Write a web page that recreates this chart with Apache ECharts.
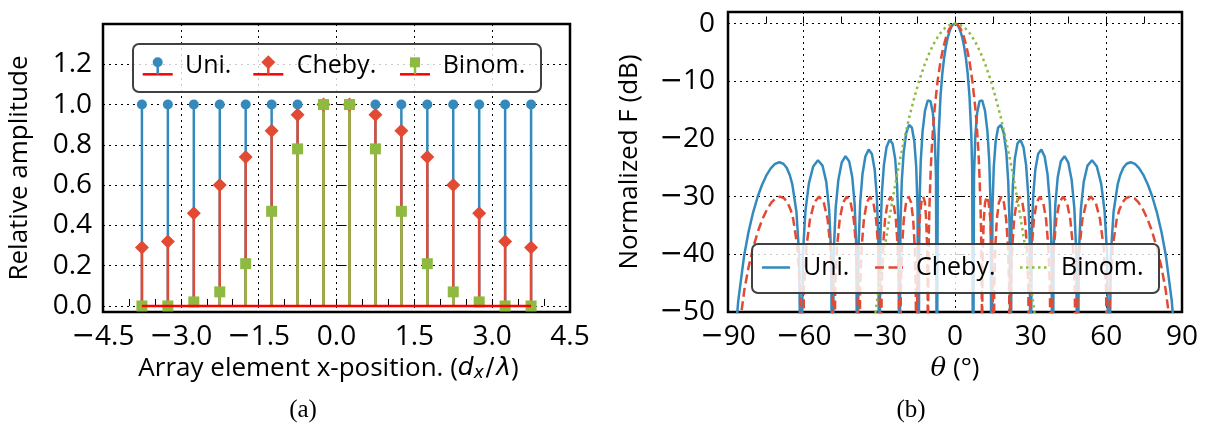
<!DOCTYPE html>
<html><head><meta charset="utf-8">
<script src="https://cdn.jsdelivr.net/npm/echarts@6/dist/echarts.min.js"></script>
<style>html,body{margin:0;padding:0;background:#fff}#c{width:1211px;height:425px}</style>
</head><body><div id="c"></div>
<script>
// ---------- panel (a): element amplitudes ----------
const positions = [-3.75,-3.25,-2.75,-2.25,-1.75,-1.25,-0.75,-0.25,0.25,0.75,1.25,1.75,2.25,2.75,3.25,3.75];
const uniAmp   = [1,1,1,1,1,1,1,1,1,1,1,1,1,1,1,1];
const chebyAmp = [0.29,0.32,0.46,0.60,0.74,0.87,0.95,1.00,1.00,0.95,0.87,0.74,0.60,0.46,0.32,0.29];
const binomAmp = [0.00,0.00,0.02,0.07,0.21,0.47,0.78,1.00,1.00,0.78,0.47,0.21,0.07,0.02,0.00,0.00];
const xTicksA = [-4.5,-3,-1.5,0,1.5,3,4.5];
const xTickLabelsA = ['−4.5','−3.0','−1.5','0.0','1.5','3.0','4.5'];
const yTicksA = [0,0.2,0.4,0.6,0.8,1.0,1.2];
const yTickLabelsA = ['0.0','0.2','0.4','0.6','0.8','1.0','1.2'];
const seriesNames = ['Uni.','Cheby.','Binom.'];

// ---------- panel (b): normalized array factor, [theta (deg), dB] ----------
const uniPattern = [
[-90,-70],[-85.95,-48.12],[-83.59,-40.19],[-81.89,-36.17],[-80.06,-32.76],[-78.17,-29.94],[-76.53,-27.98],[-74.80,-26.33],[-72.98,-25.06],[-71.35,-24.33],[-69.64,-24.04],[-68.05,-24.31],[-66.74,-25.01],[-65.51,-26.26],[-64.49,-27.89],[-62.87,-32.63],[-61.79,-40.04],[-61.05,-70],
[-60.31,-40.01],[-59.32,-32.55],[-57.95,-27.74],[-56.23,-24.77],[-54.34,-23.70],[-52.54,-24.62],[-51.04,-27.45],[-49.91,-32.16],[-49.13,-39.54],[-48.59,-70],
[-48.06,-39.47],[-47.31,-31.99],[-46.26,-27.14],[-44.93,-24.12],[-43.43,-22.99],[-41.97,-23.85],[-40.73,-26.63],[-39.79,-31.29],[-39.14,-38.65],[-38.68,-70],
[-38.23,-38.53],[-37.59,-31.02],[-36.69,-26.13],[-35.54,-23.05],[-34.23,-21.85],[-32.94,-22.63],[-31.84,-25.34],[-31.00,-29.95],[-30.41,-37.27],[-30,-70],
[-29.59,-37.10],[-29.01,-29.54],[-28.20,-24.59],[-27.15,-21.43],[-25.94,-20.13],[-24.76,-20.81],[-23.73,-23.42],[-22.95,-27.96],[-22.41,-35.21],[-22.02,-70],
[-21.64,-34.96],[-21.10,-27.34],[-20.34,-22.30],[-19.34,-19.01],[-18.21,-17.55],[-17.08,-18.05],[-16.11,-20.50],[-15.37,-24.90],[-14.85,-32.05],[-14.48,-70],
[-14.11,-31.64],[-13.59,-23.91],[-12.86,-18.68],[-11.90,-15.14],[-10.81,-13.34],[-10.23,-13.15],[-9.72,-13.45],[-8.77,-15.50],[-8.05,-19.54],[-7.54,-26.41],[-7.18,-70],
[-6.82,-25.56],[-6.46,-19.18],[-5.74,-12.58],[-5.02,-8.66],[-4.30,-5.92],[-3.58,-3.91],[-2.87,-2.41],[-2.15,-1.32],[-1.43,-0.58],[-0.72,-0.14],[0,0],
[0.72,-0.14],[1.43,-0.58],[2.15,-1.32],[2.87,-2.41],[3.58,-3.91],[4.30,-5.92],[5.02,-8.66],[5.74,-12.58],[6.46,-19.18],[6.82,-25.56],
[7.18,-70],[7.54,-26.41],[8.05,-19.54],[8.77,-15.50],[9.72,-13.45],[10.23,-13.15],[10.81,-13.34],[11.90,-15.14],[12.86,-18.68],[13.59,-23.91],[14.11,-31.64],
[14.48,-70],[14.85,-32.05],[15.37,-24.90],[16.11,-20.50],[17.08,-18.05],[18.21,-17.55],[19.34,-19.01],[20.34,-22.30],[21.10,-27.34],[21.64,-34.96],
[22.02,-70],[22.41,-35.21],[22.95,-27.96],[23.73,-23.42],[24.76,-20.81],[25.94,-20.13],[27.15,-21.43],[28.20,-24.59],[29.01,-29.54],[29.59,-37.10],
[30,-70],[30.41,-37.27],[31.00,-29.95],[31.84,-25.34],[32.94,-22.63],[34.23,-21.85],[35.54,-23.05],[36.69,-26.13],[37.59,-31.02],[38.23,-38.53],
[38.68,-70],[39.14,-38.65],[39.79,-31.29],[40.73,-26.63],[41.97,-23.85],[43.43,-22.99],[44.93,-24.12],[46.26,-27.14],[47.31,-31.99],[48.06,-39.47],
[48.59,-70],[49.13,-39.54],[49.91,-32.16],[51.04,-27.45],[52.54,-24.62],[54.34,-23.70],[56.23,-24.77],[57.95,-27.74],[59.32,-32.55],[60.31,-40.01],
[61.05,-70],[61.79,-40.04],[62.87,-32.63],[64.49,-27.89],[65.51,-26.26],[66.74,-25.01],[68.05,-24.31],[69.64,-24.04],[71.35,-24.33],[72.98,-25.06],[74.80,-26.33],[76.53,-27.98],[78.17,-29.94],[80.06,-32.76],[81.89,-36.17],[83.59,-40.19],[85.95,-48.12],[90,-70]
];
const chebyPattern = [
[-90,-80],[-85.89,-54.04],[-83.50,-46.11],[-81.78,-42.09],[-79.93,-38.68],[-78.01,-35.87],[-76.35,-33.91],[-74.59,-32.26],[-72.76,-31.00],[-71.10,-30.28],[-69.36,-30.00],[-67.75,-30.28],[-66.43,-31.00],[-65.17,-32.26],[-64.14,-33.91],[-62.51,-38.68],[-61.42,-46.11],[-60.66,-80],
[-59.91,-46.11],[-58.90,-38.68],[-57.49,-33.91],[-55.78,-31.00],[-53.86,-30.00],[-52.05,-31.00],[-50.52,-33.91],[-49.39,-38.68],[-48.61,-46.11],[-48.06,-80],
[-47.51,-46.11],[-46.76,-38.68],[-45.70,-33.91],[-44.37,-31.00],[-42.86,-30.00],[-41.39,-31.00],[-40.15,-33.91],[-39.21,-38.68],[-38.55,-46.11],[-38.10,-80],
[-37.64,-46.11],[-37.00,-38.68],[-36.11,-33.91],[-34.96,-31.00],[-33.66,-30.00],[-32.38,-31.00],[-31.29,-33.91],[-30.47,-38.68],[-29.90,-46.11],[-29.49,-80],
[-29.09,-46.11],[-28.53,-38.68],[-27.74,-33.91],[-26.71,-31.00],[-25.55,-30.00],[-24.42,-31.00],[-23.45,-33.91],[-22.72,-38.68],[-22.21,-46.11],[-21.85,-80],
[-21.49,-46.11],[-21.00,-38.68],[-20.29,-33.91],[-19.38,-31.00],[-18.39,-30.00],[-17.41,-31.00],[-16.59,-33.91],[-15.97,-38.68],[-15.55,-46.11],[-15.26,-80],
[-14.96,-46.11],[-14.56,-38.68],[-14.01,-33.91],[-13.33,-31.00],[-12.59,-30.00],[-11.93,-31.00],[-11.42,-33.91],[-11.07,-38.68],[-10.85,-46.11],[-10.71,-80],
[-10.64,-49.6],[-10.51,-41.74],[-10.34,-36.02],[-10.10,-31.25],[-10.00,-30.00],[-9.61,-25.22],[-9.21,-21.62],[-8.63,-17.69],[-8.05,-14.61],[-6.89,-9.94],[-5.74,-6.55],[-4.59,-4.04],[-3.44,-2.21],[-2.29,-0.96],[-1.15,-0.24],[0,0],
[1.15,-0.24],[2.29,-0.96],[3.44,-2.21],[4.59,-4.04],[5.74,-6.55],[6.89,-9.94],[8.05,-14.61],[8.63,-17.69],[9.21,-21.62],[9.61,-25.22],[10.00,-30.00],[10.10,-31.25],[10.34,-36.02],[10.51,-41.74],[10.64,-49.6],
[10.71,-80],[10.85,-46.11],[11.07,-38.68],[11.42,-33.91],[11.93,-31.00],[12.59,-30.00],[13.33,-31.00],[14.01,-33.91],[14.56,-38.68],[14.96,-46.11],
[15.26,-80],[15.55,-46.11],[15.97,-38.68],[16.59,-33.91],[17.41,-31.00],[18.39,-30.00],[19.38,-31.00],[20.29,-33.91],[21.00,-38.68],[21.49,-46.11],
[21.85,-80],[22.21,-46.11],[22.72,-38.68],[23.45,-33.91],[24.42,-31.00],[25.55,-30.00],[26.71,-31.00],[27.74,-33.91],[28.53,-38.68],[29.09,-46.11],
[29.49,-80],[29.90,-46.11],[30.47,-38.68],[31.29,-33.91],[32.38,-31.00],[33.66,-30.00],[34.96,-31.00],[36.11,-33.91],[37.00,-38.68],[37.64,-46.11],
[38.10,-80],[38.55,-46.11],[39.21,-38.68],[40.15,-33.91],[41.39,-31.00],[42.86,-30.00],[44.37,-31.00],[45.70,-33.91],[46.76,-38.68],[47.51,-46.11],
[48.06,-80],[48.61,-46.11],[49.39,-38.68],[50.52,-33.91],[52.05,-31.00],[53.86,-30.00],[55.78,-31.00],[57.49,-33.91],[58.90,-38.68],[59.91,-46.11],
[60.66,-80],[61.42,-46.11],[62.51,-38.68],[64.14,-33.91],[65.17,-32.26],[66.43,-31.00],[67.75,-30.28],[69.36,-30.00],[71.10,-30.28],[72.76,-31.00],[74.59,-32.26],[76.35,-33.91],[78.01,-35.87],[79.93,-38.68],[81.78,-42.09],[83.50,-46.11],[85.89,-54.04],[90,-80]
];
const binomPattern = [
[-40,-82.2],[-34,-58.5],[-32,-51.58],[-30,-45.15],[-28,-39.19],[-26,-33.68],[-24,-28.63],[-22,-23.97],[-20,-19.78],[-18,-15.99],[-16,-12.62],[-14,-9.63],[-12,-7.07],[-10,-4.91],[-8,-3.14],[-6,-1.77],[-4,-0.78],[-2,-0.20],[0,0],
[2,-0.20],[4,-0.78],[6,-1.77],[8,-3.14],[10,-4.91],[12,-7.07],[14,-9.63],[16,-12.62],[18,-15.99],[20,-19.78],[22,-23.97],[24,-28.63],[26,-33.68],[28,-39.19],[30,-45.15],[32,-51.58],[34,-58.5],[40,-82.2]
];
const xTicksB = [-90,-60,-30,0,30,60,90];
const xTickLabelsB = ['−90','−60','−30','0','30','60','90'];
const yTicksB = [-50,-40,-30,-20,-10,0];
const yTickLabelsB = ['−50','−40','−30','−20','−10','0'];

// ---------- styling ----------
const C_UNI = '#348ABD', C_CHEB = '#E24A33', C_BIN = '#8EBA42', C_BASE = '#FF0000';
const FONT = 'Open Sans';
const DASH_CHEB = [9, 4.5], DOT_BIN = [2.5, 3.5];
const gridLine = { show: true, lineStyle: { color: '#000', width: 1, type: [2, 4] } };

function labelFor(ticks, labels) {
  return function (v) {
    let best = -1, bd = 1e9;
    ticks.forEach((t, i) => { const d = Math.abs(t - v); if (d < bd) { bd = d; best = i; } });
    if (bd > 1e-6) return '';
    return labels[best].replace('−', '{m|−}');
  };
}
const tickRich = { m: { fontFamily: 'DejaVu Sans', fontSize: 28, color: '#000' } };
const tickLabelStyle = { fontFamily: FONT, fontSize: 28, color: '#000', rich: tickRich };

const pairs = (xs, ys) => xs.map((x, i) => [x, ys[i]]);

const chart = echarts.init(document.getElementById('c'), null, { renderer: 'canvas' });

// ----- legends drawn as graphics -----
const elems = [];
function box(x, y, w, h) {
  elems.push({ type: 'rect', z: 100, shape: { x: x, y: y, width: w, height: h, r: 6 },
    style: { fill: 'rgba(255,255,255,0.8)', stroke: '#404040', lineWidth: 2 } });
}
function label(x, y, text) {
  elems.push({ type: 'text', z: 102, x: x, y: y,
    style: { text: text, fontFamily: FONT, fontSize: 25, fill: '#000', align: 'left', verticalAlign: 'middle' } });
}
// (a) stem-style legend
box(133, 44, 408, 48);
const legA = [
  { name: seriesNames[0], cx: 157.7, tx: 185, color: C_UNI, shape: 'circle' },
  { name: seriesNames[1], cx: 268.3, tx: 296.7, color: C_CHEB, shape: 'diamond' },
  { name: seriesNames[2], cx: 415, tx: 442.7, color: C_BIN, shape: 'square' }
];
const baseY = 74.3, mkY = 62.3;
legA.forEach(it => {
  elems.push({ type: 'line', z: 101, shape: { x1: it.cx - 15, y1: baseY, x2: it.cx + 15, y2: baseY }, style: { stroke: C_BASE, lineWidth: 2.5 } });
  elems.push({ type: 'line', z: 101, shape: { x1: it.cx, y1: baseY, x2: it.cx, y2: mkY }, style: { stroke: it.color, lineWidth: 2.5 } });
  if (it.shape === 'circle') elems.push({ type: 'circle', z: 102, shape: { cx: it.cx, cy: mkY, r: 5 }, style: { fill: it.color } });
  if (it.shape === 'diamond') elems.push({ type: 'polygon', z: 102, shape: { points: [[it.cx, mkY - 7], [it.cx + 7, mkY], [it.cx, mkY + 7], [it.cx - 7, mkY]] }, style: { fill: it.color } });
  if (it.shape === 'square') elems.push({ type: 'rect', z: 102, shape: { x: it.cx - 5, y: mkY - 5, width: 10, height: 10 }, style: { fill: it.color } });
  label(it.tx, 66, it.name);
});
// (b) line legend
box(752, 244, 407, 49);
const legB = [
  { name: seriesNames[0], x: 762, tx: 803, color: C_UNI, dash: null },
  { name: seriesNames[1], x: 875, tx: 916, color: C_CHEB, dash: DASH_CHEB },
  { name: seriesNames[2], x: 1020, tx: 1061, color: C_BIN, dash: DOT_BIN }
];
legB.forEach(it => {
  const st = { stroke: it.color, lineWidth: 2.5 };
  if (it.dash) st.lineDash = it.dash;
  elems.push({ type: 'line', z: 101, shape: { x1: it.x, y1: 267.5, x2: it.x + 28, y2: 267.5 }, style: st });
  label(it.tx, 268, it.name);
});
// captions
elems.push({ type: 'text', z: 102, x: 303, y: 410, style: { text: '(a)', fontFamily: 'Liberation Serif', fontSize: 25, fill: '#000', align: 'center', verticalAlign: 'middle' } });
elems.push({ type: 'text', z: 102, x: 911, y: 410, style: { text: '(b)', fontFamily: 'Liberation Serif', fontSize: 25, fill: '#000', align: 'center', verticalAlign: 'middle' } });

const option = {
  animation: false,
  backgroundColor: '#fff',
  graphic: { elements: elems },
  grid: [
    { left: 103, top: 24, width: 467, height: 288, show: true, borderColor: '#000', borderWidth: 2.5, backgroundColor: 'transparent' },
    { left: 728, top: 12, width: 454, height: 300, show: true, borderColor: '#000', borderWidth: 2.5, backgroundColor: 'transparent' }
  ],
  xAxis: [
    { type: 'value', gridIndex: 0, min: -4.5, max: 4.5, interval: 1.5,
      name: 'Array element x-position. ({i|d}{s|x}{n|/}{i|λ})', nameLocation: 'middle', nameGap: 38,
      nameTextStyle: { fontFamily: FONT, fontSize: 26, color: '#000', padding: [0, 16, 0, 0],
        rich: { i: { fontFamily: 'DejaVu Sans', fontStyle: 'italic', fontSize: 25, color: '#000' },
                s: { fontFamily: 'DejaVu Sans', fontStyle: 'italic', fontSize: 17, color: '#000', padding: [10, 0, 0, 0] },
                n: { fontFamily: 'DejaVu Sans', fontSize: 25, color: '#000', padding: [0, 2, 0, 2] } } },
      axisLine: { show: false },
      axisTick: { show: true, inside: true, length: 7, lineStyle: { color: '#000', width: 1 } },
      minorTick: { show: true, splitNumber: 3, length: 7, lineStyle: { color: '#000', width: 1 } },
      axisLabel: Object.assign({ margin: 11, formatter: labelFor(xTicksA, xTickLabelsA) }, tickLabelStyle),
      splitLine: gridLine },
    { type: 'value', gridIndex: 1, min: -90, max: 90, interval: 30,
      name: '{i|θ} (°)', nameLocation: 'middle', nameGap: 44,
      nameTextStyle: { fontFamily: FONT, fontSize: 26, color: '#000',
        rich: { i: { fontFamily: 'DejaVu Serif', fontStyle: 'italic', fontSize: 26, color: '#000' } } },
      axisLine: { show: false },
      axisTick: { show: true, inside: true, length: 7, lineStyle: { color: '#000', width: 1 } },
      minorTick: { show: true, splitNumber: 2, length: 7, lineStyle: { color: '#000', width: 1 } },
      axisLabel: Object.assign({ margin: 11, formatter: labelFor(xTicksB, xTickLabelsB) }, tickLabelStyle),
      splitLine: gridLine }
  ],
  yAxis: [
    { type: 'value', gridIndex: 0, min: -0.03, max: 1.4,
      name: 'Relative amplitude', nameLocation: 'middle', nameGap: 70,
      nameTextStyle: { fontFamily: FONT, fontSize: 26, color: '#000' },
      axisLine: { show: false },
      axisTick: { show: true, inside: true, length: 10, customValues: yTicksA, lineStyle: { color: '#000', width: 1 } },
      axisLabel: Object.assign({ margin: 11, customValues: yTicksA, formatter: labelFor(yTicksA, yTickLabelsA) }, tickLabelStyle),
      splitLine: gridLine },
    { type: 'value', gridIndex: 1, min: -50, max: 2, interval: 10,
      name: 'Normalized F (dB)', nameLocation: 'middle', nameGap: 85,
      nameTextStyle: { fontFamily: FONT, fontSize: 26, color: '#000' },
      axisLine: { show: false },
      axisTick: { show: true, inside: true, length: 10, lineStyle: { color: '#000', width: 1 } },
      axisLabel: Object.assign({ margin: 13, showMaxLabel: false, formatter: labelFor(yTicksB, yTickLabelsB) }, tickLabelStyle),
      splitLine: gridLine }
  ],
  series: [
    { name: 'Uni. amplitude', type: 'bar', xAxisIndex: 0, yAxisIndex: 0, barWidth: 2.5, barGap: '-100%',
      itemStyle: { color: C_UNI }, data: pairs(positions, uniAmp) },
    { name: 'Uni. marker', type: 'scatter', xAxisIndex: 0, yAxisIndex: 0, symbol: 'circle', symbolSize: 10,
      itemStyle: { color: C_UNI, opacity: 1 }, data: pairs(positions, uniAmp) },
    { name: 'Cheby. amplitude', type: 'bar', xAxisIndex: 0, yAxisIndex: 0, barWidth: 2.5, barGap: '-100%',
      itemStyle: { color: C_CHEB }, data: pairs(positions, chebyAmp) },
    { name: 'Cheby. marker', type: 'scatter', xAxisIndex: 0, yAxisIndex: 0, symbol: 'diamond', symbolSize: 14,
      itemStyle: { color: C_CHEB, opacity: 1 }, data: pairs(positions, chebyAmp) },
    { name: 'Binom. amplitude', type: 'bar', xAxisIndex: 0, yAxisIndex: 0, barWidth: 2.5, barGap: '-100%',
      itemStyle: { color: C_BIN }, data: pairs(positions, binomAmp) },
    { name: 'Binom. marker', type: 'scatter', xAxisIndex: 0, yAxisIndex: 0, symbol: 'rect', symbolSize: 11,
      itemStyle: { color: C_BIN, opacity: 1 }, data: pairs(positions, binomAmp) },
    { name: 'baseline', type: 'line', xAxisIndex: 0, yAxisIndex: 0, symbol: 'none',
      lineStyle: { color: C_BASE, width: 2.5 },
      data: [[positions[0], 0], [positions[positions.length - 1], 0]] },
    { name: seriesNames[0], type: 'line', xAxisIndex: 1, yAxisIndex: 1, symbol: 'none', clip: true,
      itemStyle: { color: C_UNI }, lineStyle: { color: C_UNI, width: 2.5 }, data: uniPattern },
    { name: seriesNames[1], type: 'line', xAxisIndex: 1, yAxisIndex: 1, symbol: 'none', clip: true,
      itemStyle: { color: C_CHEB }, lineStyle: { color: C_CHEB, width: 2.5, type: DASH_CHEB }, data: chebyPattern },
    { name: seriesNames[2], type: 'line', xAxisIndex: 1, yAxisIndex: 1, symbol: 'none', clip: true,
      itemStyle: { color: C_BIN }, lineStyle: { color: C_BIN, width: 2.5, type: DOT_BIN }, data: binomPattern }
  ]
};
chart.setOption(option);
</script>
</body></html>
